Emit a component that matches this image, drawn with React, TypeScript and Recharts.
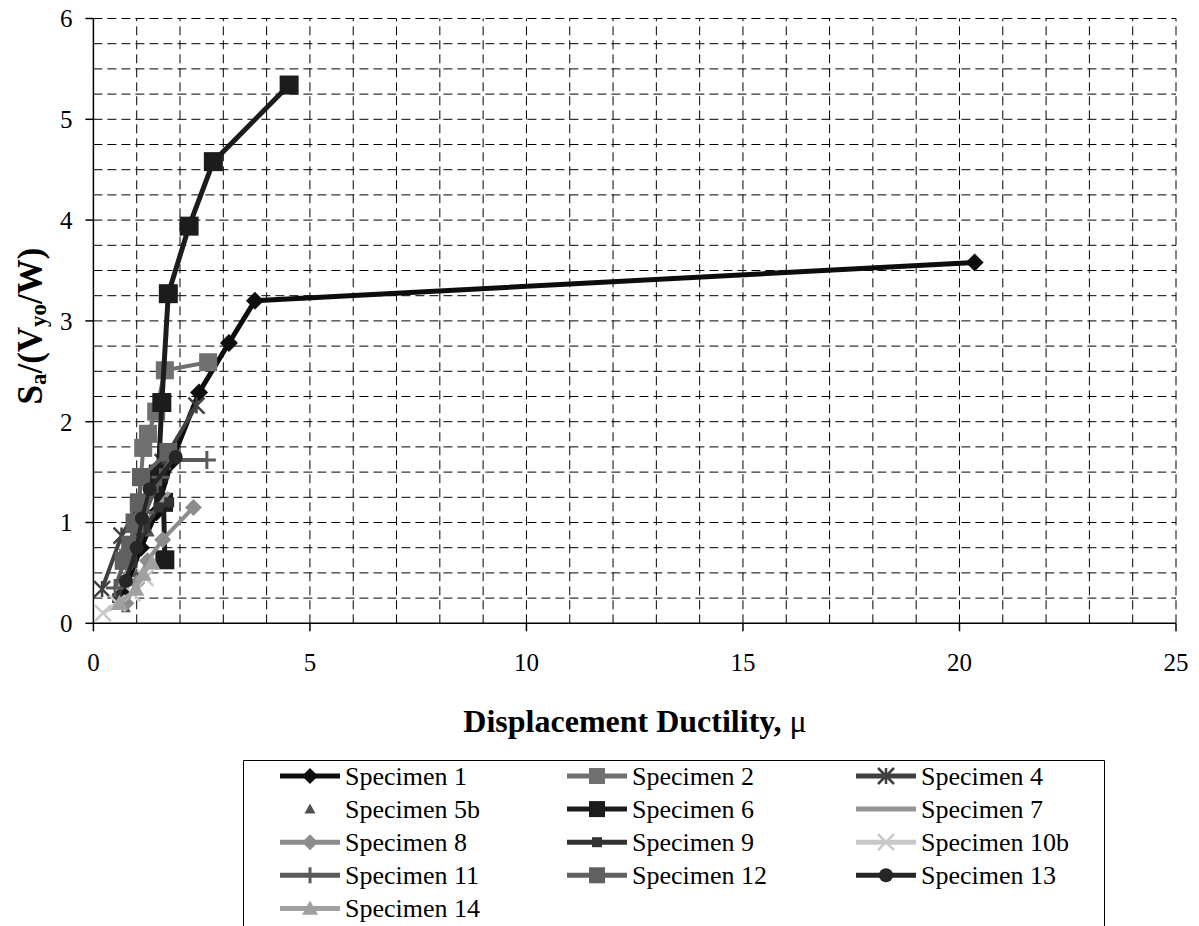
import React from 'react';
import { ScatterChart, Scatter, XAxis, YAxis, ReferenceLine, Legend } from 'recharts';

// ductility (x) vs Sa/(Vyo/W) (y)
const specimen1 = [
  { x: 0.7, y: 0.3 }, { x: 1.1, y: 0.75 }, { x: 1.45, y: 1.1 }, { x: 1.8, y: 1.6 },
  { x: 2.44, y: 2.29 }, { x: 3.13, y: 2.78 }, { x: 3.73, y: 3.2 }, { x: 20.35, y: 3.58 },
];
const specimen2 = [
  { x: 0.8, y: 0.65 }, { x: 1.05, y: 1.15 }, { x: 1.1, y: 1.45 }, { x: 1.15, y: 1.74 },
  { x: 1.26, y: 1.88 }, { x: 1.45, y: 2.1 }, { x: 1.65, y: 2.51 }, { x: 2.65, y: 2.59 },
];
const specimen4 = [
  { x: 0.2, y: 0.34 }, { x: 0.65, y: 0.87 }, { x: 1.1, y: 1.2 }, { x: 1.6, y: 1.6 }, { x: 2.38, y: 2.16 },
];
const specimen5b = [
  { x: 0.75, y: 0.15 }, { x: 1.0, y: 0.5 }, { x: 1.3, y: 0.9 }, { x: 1.5, y: 1.3 },
];
const specimen6 = [
  { x: 1.65, y: 0.63 }, { x: 1.62, y: 1.2 }, { x: 1.5, y: 1.48 }, { x: 1.58, y: 2.19 },
  { x: 1.73, y: 3.27 }, { x: 2.21, y: 3.94 }, { x: 2.77, y: 4.58 }, { x: 4.52, y: 5.34 },
];
const specimen7 = [
  { x: 0.6, y: 0.35 }, { x: 1.0, y: 0.75 }, { x: 1.3, y: 1.05 }, { x: 1.75, y: 1.3 },
];
const specimen8 = [
  { x: 0.75, y: 0.2 }, { x: 1.0, y: 0.4 }, { x: 1.25, y: 0.62 }, { x: 1.6, y: 0.83 }, { x: 2.31, y: 1.15 },
];
const specimen9 = [
  { x: 0.55, y: 0.25 }, { x: 0.9, y: 0.6 }, { x: 1.2, y: 0.95 }, { x: 1.5, y: 1.15 }, { x: 1.75, y: 1.2 },
];
const specimen10b = [
  { x: 0.22, y: 0.1 }, { x: 0.55, y: 0.2 }, { x: 0.9, y: 0.3 }, { x: 1.2, y: 0.45 },
];
const specimen11 = [
  { x: 0.5, y: 0.35 }, { x: 0.95, y: 0.91 }, { x: 1.2, y: 1.1 }, { x: 1.55, y: 1.45 },
  { x: 1.75, y: 1.62 }, { x: 2.62, y: 1.62 },
];
const specimen12 = [
  { x: 0.7, y: 0.62 }, { x: 0.85, y: 0.78 }, { x: 0.95, y: 1.0 }, { x: 1.05, y: 1.2 },
  { x: 1.1, y: 1.45 }, { x: 1.73, y: 1.7 },
];
const specimen13 = [
  { x: 0.75, y: 0.42 }, { x: 1.0, y: 0.75 }, { x: 1.12, y: 1.04 }, { x: 1.3, y: 1.33 }, { x: 1.9, y: 1.65 },
];
const specimen14 = [
  { x: 0.6, y: 0.2 }, { x: 0.98, y: 0.34 }, { x: 1.15, y: 0.49 }, { x: 1.35, y: 0.6 },
];

const xTicks = [0, 5, 10, 15, 20, 25];
const yTicks = [0, 1, 2, 3, 4, 5, 6];
const xGrid = Array.from({ length: 25 }, (_, i) => i + 1);
const yGrid = Array.from({ length: 24 }, (_, i) => (i + 1) * 0.25);

const FONT = "'Liberation Serif', 'Times New Roman', serif";

type Shape = 'diamond' | 'square' | 'star' | 'triangle' | 'none' | 'smallSquare' | 'x' | 'plus' | 'circle';

interface Series {
  name: string;
  data: { x: number; y: number }[];
  color: string;
  shape: Shape;
  size: number;
  lineWidth: number;
}

const series: Series[] = [
  { name: 'Specimen 1', data: specimen1, color: '#0d0d0d', shape: 'diamond', size: 18, lineWidth: 5 },
  { name: 'Specimen 2', data: specimen2, color: '#707070', shape: 'square', size: 18, lineWidth: 4 },
  { name: 'Specimen 4', data: specimen4, color: '#404040', shape: 'star', size: 16, lineWidth: 4 },
  { name: 'Specimen 5b', data: specimen5b, color: '#505050', shape: 'triangle', size: 10, lineWidth: 0 },
  { name: 'Specimen 6', data: specimen6, color: '#1c1c1c', shape: 'square', size: 19, lineWidth: 5 },
  { name: 'Specimen 7', data: specimen7, color: '#969696', shape: 'none', size: 0, lineWidth: 4 },
  { name: 'Specimen 8', data: specimen8, color: '#8c8c8c', shape: 'diamond', size: 17, lineWidth: 4 },
  { name: 'Specimen 9', data: specimen9, color: '#333333', shape: 'smallSquare', size: 10, lineWidth: 4 },
  { name: 'Specimen 10b', data: specimen10b, color: '#c8c8c8', shape: 'x', size: 16, lineWidth: 4 },
  { name: 'Specimen 11', data: specimen11, color: '#5a5a5a', shape: 'plus', size: 18, lineWidth: 4 },
  { name: 'Specimen 12', data: specimen12, color: '#606060', shape: 'square', size: 18, lineWidth: 4 },
  { name: 'Specimen 13', data: specimen13, color: '#262626', shape: 'circle', size: 14, lineWidth: 4 },
  { name: 'Specimen 14', data: specimen14, color: '#a0a0a0', shape: 'triangle', size: 17, lineWidth: 4 },
];

function marker(shape: Shape, cx: number, cy: number, s: number, color: string) {
  const h = s / 2;
  switch (shape) {
    case 'diamond':
      return <polygon points={`${cx},${cy - h} ${cx + h},${cy} ${cx},${cy + h} ${cx - h},${cy}`} fill={color} />;
    case 'square':
    case 'smallSquare':
      return <rect x={cx - h} y={cy - h} width={s} height={s} fill={color} />;
    case 'triangle':
      return <polygon points={`${cx},${cy - h} ${cx + h},${cy + h * 0.8} ${cx - h},${cy + h * 0.8}`} fill={color} />;
    case 'circle':
      return <circle cx={cx} cy={cy} r={h} fill={color} />;
    case 'x':
      return (
        <path d={`M${cx - h},${cy - h}L${cx + h},${cy + h}M${cx - h},${cy + h}L${cx + h},${cy - h}`}
          stroke={color} strokeWidth={2.5} fill="none" />
      );
    case 'star':
      return (
        <path d={`M${cx - h},${cy - h}L${cx + h},${cy + h}M${cx - h},${cy + h}L${cx + h},${cy - h}M${cx},${cy - h}L${cx},${cy + h}`}
          stroke={color} strokeWidth={2.5} fill="none" />
      );
    case 'plus':
      return (
        <path d={`M${cx - h},${cy}L${cx + h},${cy}M${cx},${cy - h}L${cx},${cy + h}`}
          stroke={color} strokeWidth={3} fill="none" />
      );
    default:
      return <g />;
  }
}

function YTitle() {
  const cx = 30;
  const cy = 326;
  return (
    <text x={cx} y={cy} transform={`rotate(-90, ${cx}, ${cy})`} textAnchor="middle" dominantBaseline="central"
      fontFamily={FONT} fontWeight="bold" fontSize={35} fill="#000">
      <tspan>S</tspan>
      <tspan fontSize={23} dy={8}>a</tspan>
      <tspan dy={-8}>/(V</tspan>
      <tspan fontSize={23} dy={8}>yo</tspan>
      <tspan dy={-8}>/W)</tspan>
    </text>
  );
}

function XTitle() {
  return (
    <text x={635} y={732} textAnchor="middle" fontFamily={FONT} fontSize={32} fill="#000">
      <tspan fontWeight="bold">Displacement Ductility, </tspan>
      <tspan>μ</tspan>
    </text>
  );
}

const legendCols = [37, 324, 613];
const legendTop = 16;
const legendStep = 33.1;

function LegendBox() {
  return (
    <svg width={862} height={166} style={{ display: 'block' }}>
      <path d="M0.5,166 L0.5,0.5 L861.5,0.5 L861.5,166" stroke="#000" strokeWidth={1} fill="none" />
      {series.map((s, i) => {
        const col = i % 3;
        const row = Math.floor(i / 3);
        const x0 = legendCols[col];
        const cy = legendTop + row * legendStep;
        const mid = x0 + 30;
        return (
          <g key={s.name}>
            {s.lineWidth > 0 && (
              <line x1={x0} x2={x0 + 60} y1={cy} y2={cy} stroke={s.color} strokeWidth={5} />
            )}
            {marker(s.shape, mid, cy, s.shape === 'triangle' && s.lineWidth === 0 ? 11 : Math.min(s.size, 16), s.color)}
            <text x={x0 + 65} y={cy + 8.5} fontFamily={FONT} fontSize={26} fill="#000">{s.name}</text>
          </g>
        );
      })}
    </svg>
  );
}

export default function App() {
  return (
    <div style={{ position: 'absolute', left: 0, top: 0, width: 1199, height: 926, overflow: 'hidden', background: '#fff' }}>
      <ScatterChart width={1199} height={926} margin={{ top: 18.5, right: 23, left: 33.4, bottom: 262.7 }}>
        <XAxis
          type="number"
          dataKey="x"
          domain={[0, 25]}
          ticks={xTicks}
          interval={0}
          axisLine={{ stroke: '#000', strokeWidth: 1.5 }}
          tickLine={{ stroke: '#000', strokeWidth: 1.5 }}
          tickSize={8}
          tickMargin={22}
          tick={{ fill: '#000', fontSize: 25, fontFamily: FONT }}
          height={40}
          label={<XTitle />}
        />
        <YAxis
          type="number"
          dataKey="y"
          domain={[0, 6]}
          ticks={yTicks}
          interval={0}
          axisLine={{ stroke: '#000', strokeWidth: 1.5 }}
          tickLine={{ stroke: '#000', strokeWidth: 1.5 }}
          tickSize={8}
          tickMargin={13}
          tick={{ fill: '#000', fontSize: 25, fontFamily: FONT }}
          width={60}
          label={<YTitle />}
        />
        {yGrid.map((v) => (
          <ReferenceLine key={'h' + v} y={v} stroke="#000" strokeWidth={1} strokeDasharray="9 5" />
        ))}
        {xGrid.map((v) => (
          <ReferenceLine key={'v' + v} x={v} stroke="#000" strokeWidth={1} strokeDasharray="9 5" />
        ))}
        {series.map((s) => (
          <Scatter
            key={s.name}
            name={s.name}
            data={s.data}
            isAnimationActive={false}
            line={s.lineWidth > 0 ? { stroke: s.color, strokeWidth: s.lineWidth } : false}
            shape={(p: any) => marker(s.shape, p.cx, p.cy, s.size, s.color)}
          />
        ))}
        <Legend
          layout="vertical"
          align="center"
          verticalAlign="middle"
          width={862}
          height={166}
          wrapperStyle={{ left: 243, top: 760, width: 862, height: 166 }}
          content={() => <LegendBox />}
        />
      </ScatterChart>
    </div>
  );
}
